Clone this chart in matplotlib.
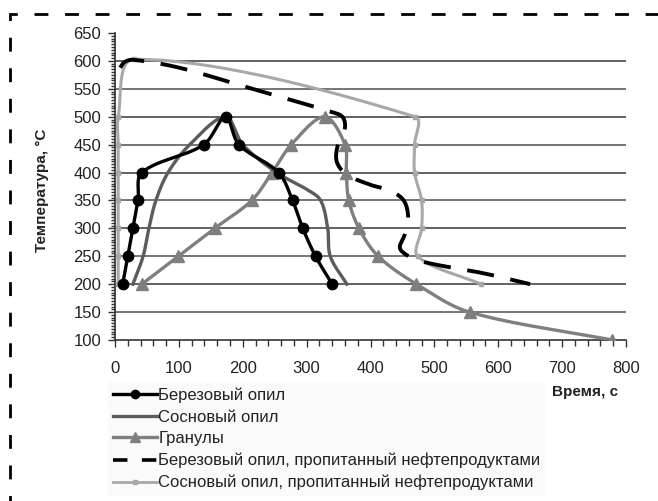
import numpy as np
import matplotlib
matplotlib.use("Agg")
import matplotlib.pyplot as plt
from matplotlib.lines import Line2D
from matplotlib.patches import Rectangle

# ---------------- data (time, s ; temperature, C) ----------------
birch_t = [12, 20, 28, 36, 42, 139, 173, 194, 256, 278, 294, 314, 340]
birch_T = [200, 250, 300, 350, 400, 450, 500, 450, 400, 350, 300, 250, 200]

pine_t = [28, 44, 53, 64, 83, 117, 173, 200, 253, 300, 322, 333, 337, 363]
pine_T = [200, 250, 300, 350, 400, 450, 500, 450, 400, 370, 350, 300, 250, 200]

gran_t = [42, 99, 156, 214, 246, 276, 328, 360, 362, 366, 382, 412, 472, 555, 778]
gran_T = [200, 250, 300, 350, 400, 450, 500, 450, 400, 350, 300, 250, 200, 150, 100]

birch_oil_t = [8, 15, 28, 100, 200, 300, 335, 356, 360, 349, 347, 362,
               400, 430, 452, 459, 454, 446, 460, 490, 575, 650]
birch_oil_T = [588, 598, 602, 588, 555, 522, 510, 500, 480, 450, 420, 397,
               378, 368, 350, 320, 290, 265, 250, 238, 220, 200]

pine_oil_t = [5, 5, 5, 5, 5, 5, 5, 30, 470, 469, 469, 480, 480, 474, 573]
pine_oil_T = [200, 250, 300, 350, 400, 450, 500, 603, 500, 450, 400, 350, 300, 250, 200]

labels = ["Березовый опил", "Сосновый опил", "Гранулы",
          "Березовый опил, пропитанный нефтепродуктами",
          "Сосновый опил, пропитанный нефтепродуктами"]

x_ticks = [0, 100, 200, 300, 400, 500, 600, 700, 800]
y_ticks = [100, 150, 200, 250, 300, 350, 400, 450, 500, 550, 600, 650]

xlabel = "Время, с"
ylabel = "Температура, °C"

# ---------------- helpers ----------------
SX, SY = 0.64, 0.558  # approx px per data unit, for isotropic smoothing


def smooth(xs, ys, n=30):
    """Chord-length scaled cubic Bezier smoothing through the given points."""
    p = np.column_stack([np.asarray(xs, float) * SX, np.asarray(ys, float) * SY])
    m = len(p)
    if m < 3:
        return xs, ys
    d = np.linalg.norm(np.diff(p, axis=0), axis=1)
    d[d == 0] = 1e-9
    tang = np.zeros_like(p)
    for i in range(m):
        if i == 0:
            tang[i] = (p[1] - p[0]) / d[0]
        elif i == m - 1:
            tang[i] = (p[-1] - p[-2]) / d[-1]
        else:
            tang[i] = (p[i + 1] - p[i - 1]) / (d[i - 1] + d[i])
    out = []
    for i in range(m - 1):
        p1, p2 = p[i], p[i + 1]
        c1 = p1 + tang[i] * d[i] / 3.0
        c2 = p2 - tang[i + 1] * d[i] / 3.0
        tt = np.linspace(0, 1, n, endpoint=(i == m - 2))
        for t in tt:
            b = ((1 - t) ** 3) * p1 + 3 * ((1 - t) ** 2) * t * c1 + 3 * (1 - t) * t ** 2 * c2 + t ** 3 * p2
            out.append(b)
    out = np.array(out)
    return out[:, 0] / SX, out[:, 1] / SY


# ---------------- figure ----------------
plt.rcParams['font.family'] = ['Liberation Sans', 'DejaVu Sans']
fig = plt.figure(figsize=(6.58, 5.01), dpi=100)
ax = fig.add_axes([115 / 658, 1 - 340 / 501, 511 / 658, 307 / 501])

c_birch = "#000000"
c_pine = "#5c5c5c"
c_gran = "#7f7f7f"
c_poil = "#a8a8a8"

for yv in y_ticks[1:-1]:
    ax.axhline(yv, color="#555555" if yv % 100 == 0 else "#6a6a6a", lw=1.3, zorder=1)

sx, sy = smooth(pine_oil_t, pine_oil_T)
ax.plot(sx, sy, color=c_poil, lw=2.2, zorder=3)
ax.plot(pine_oil_t, pine_oil_T, ls="none", marker="s", ms=3.0, color=c_poil, zorder=3)

sx, sy = smooth(birch_oil_t, birch_oil_T)
ax.plot(sx, sy, color="black", lw=2.8, dashes=(7, 4.3), zorder=4)

sx, sy = smooth(gran_t, gran_T)
ax.plot(sx, sy, color=c_gran, lw=2.4, zorder=3)
ax.plot(gran_t, gran_T, ls="none", marker="^", ms=8.5, color=c_gran, zorder=3)

sx, sy = smooth(pine_t, pine_T)
ax.plot(sx, sy, color=c_pine, lw=2.4, zorder=3)

sx, sy = smooth(birch_t, birch_T)
ax.plot(sx, sy, color=c_birch, lw=2.4, zorder=5)
ax.plot(birch_t, birch_T, ls="none", marker="o", ms=7.5, color=c_birch, zorder=5)

ax.set_xlim(0, 800)
ax.set_ylim(100, 650)
ax.set_xticks(x_ticks)
ax.set_yticks(y_ticks)
ax.set_xticks(np.arange(0, 801, 20), minor=True)
ax.set_yticks(np.arange(100, 651, 5), minor=True)
for s in ["top", "right"]:
    ax.spines[s].set_visible(False)
for s in ["left", "bottom"]:
    ax.spines[s].set_color("#333333")
    ax.spines[s].set_linewidth(1.2)
ax.tick_params(axis="both", which="both", direction="out", color="#333333", width=1.0)
ax.tick_params(axis="x", which="major", length=5, pad=10, labelsize=12)
ax.tick_params(axis="x", which="minor", length=4)
ax.tick_params(axis="y", which="major", length=5, pad=5, labelsize=12)
ax.tick_params(axis="y", which="minor", length=3)
for lab in ax.get_xticklabels() + ax.get_yticklabels():
    lab.set_color("#222222")

fig.text(618 / 658, 1 - 392 / 501, xlabel, ha="right", va="center",
         fontsize=11, fontweight="bold", color="#222222")
fig.text(42 / 658, 1 - 190 / 501, ylabel, ha="center", va="center", rotation=90,
         fontsize=11, fontweight="bold", color="#222222")

handles = [
    Line2D([], [], color=c_birch, lw=2.4, marker="o", ms=6),
    Line2D([], [], color=c_pine, lw=2.4),
    Line2D([], [], color=c_gran, lw=2.4, marker="^", ms=7),
    Line2D([], [], color="black", lw=2.6, dashes=(4, 4)),
    Line2D([], [], color=c_poil, lw=2.0, marker="s", ms=3.5),
]
leg = fig.legend(handles, labels, loc="upper left",
                 bbox_to_anchor=(100 / 658, 1 - 374 / 501),
                 frameon=True, fancybox=False, handlelength=2.6, handletextpad=0.1,
                 labelspacing=0.4, borderpad=0.3,
                 prop={"family": ["Liberation Sans Narrow", "Liberation Sans"], "size": 12})
leg.get_frame().set_facecolor("#f9f9f9")
leg.get_frame().set_edgecolor("none")
for t in leg.get_texts():
    t.set_color("#222222")

# dashed border (top and left visible)
border = Rectangle((10 / 658, -0.1), 1.2, (1 - 14 / 501) + 0.1, transform=fig.transFigure,
                   fill=False, edgecolor="black", lw=2.0, linestyle=(0, (5, 6)), clip_on=False)
fig.add_artist(border)

fig.savefig("out.png", dpi=100)
